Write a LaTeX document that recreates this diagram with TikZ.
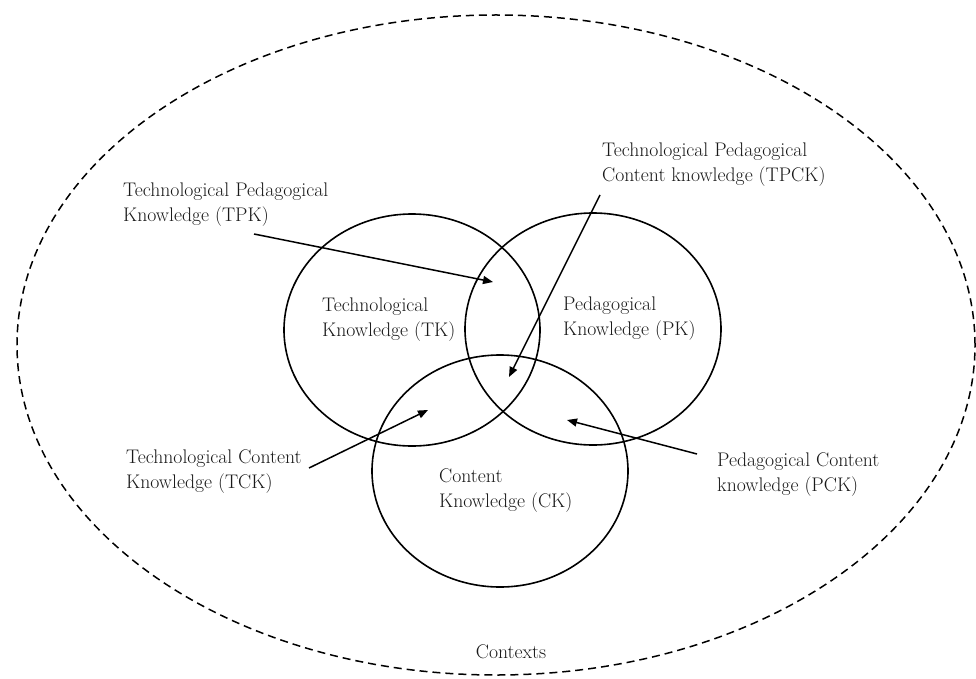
\documentclass[tikz,border=0pt]{standalone}
\usepackage{tikz}
\usetikzlibrary{shapes.geometric,arrows.meta}
\tikzset{
    know-circle/.style = {draw, line width=1.6pt, ellipse, minimum width=256pt, minimum height=232pt, inner sep=0pt},
    know-text/.style = {align=left, anchor=west, inner sep=0pt, font=\fontsize{19.7}{25}\selectfont, text=black!90},
    context-line/.style = {draw, ellipse, dash pattern=on 8pt off 5pt, line width=1.5pt, inner sep=0pt},
    pointer/.style = {line width=1.5pt, -{Triangle[length=10pt,width=8pt]}},
}

\begin{document}
\begin{tikzpicture}[x=1pt, y=-1pt]
\useasboundingbox (0,0) rectangle (976,679);
% contexts
\node[context-line, minimum width=958pt, minimum height=660pt] (ctx) at (496,345) {};
\node[know-text, anchor=center] (ctx-label) at (511,652) {Contexts};
% the three knowledge circles
\node[know-circle] (tk) at (412,330) {};
\node[know-circle] (pk) at (593,329) {};
\node[know-circle] (ck) at (500,471) {};
\node[know-text] (tk-label) at (322,320) {Technological\\Knowledge (TK)};
\node[know-text] (pk-label) at (563,319) {Pedagogical\\Knowledge (PK)};
\node[know-text] (ck-label) at (439,491) {Content\\Knowledge (CK)};
% intersections
\node[know-text] (tpk-label) at (123,205) {Technological Pedagogical\\Knowledge (TPK)};
\node[know-text] (tpck-label) at (602,165) {Technological Pedagogical\\Content knowledge (TPCK)};
\node[know-text] (tck-label) at (126,472) {Technological Content\\Knowledge (TCK)};
\node[know-text] (pck-label) at (717,475) {Pedagogical Content\\knowledge (PCK)};
\coordinate (tpk-tail) at (254,234);
\coordinate (tpk-tip) at (493,282);
\coordinate (tpck-tail) at (600,195);
\coordinate (tpck-tip) at (509,377);
\coordinate (tck-tail) at (309,468);
\coordinate (tck-tip) at (428,410);
\coordinate (pck-tail) at (697,454);
\coordinate (pck-tip) at (567,420);
\draw[pointer] (tpk-tail) -- (tpk-tip);
\draw[pointer] (tpck-tail) -- (tpck-tip);
\draw[pointer] (tck-tail) -- (tck-tip);
\draw[pointer] (pck-tail) -- (pck-tip);
\end{tikzpicture}
\end{document}
